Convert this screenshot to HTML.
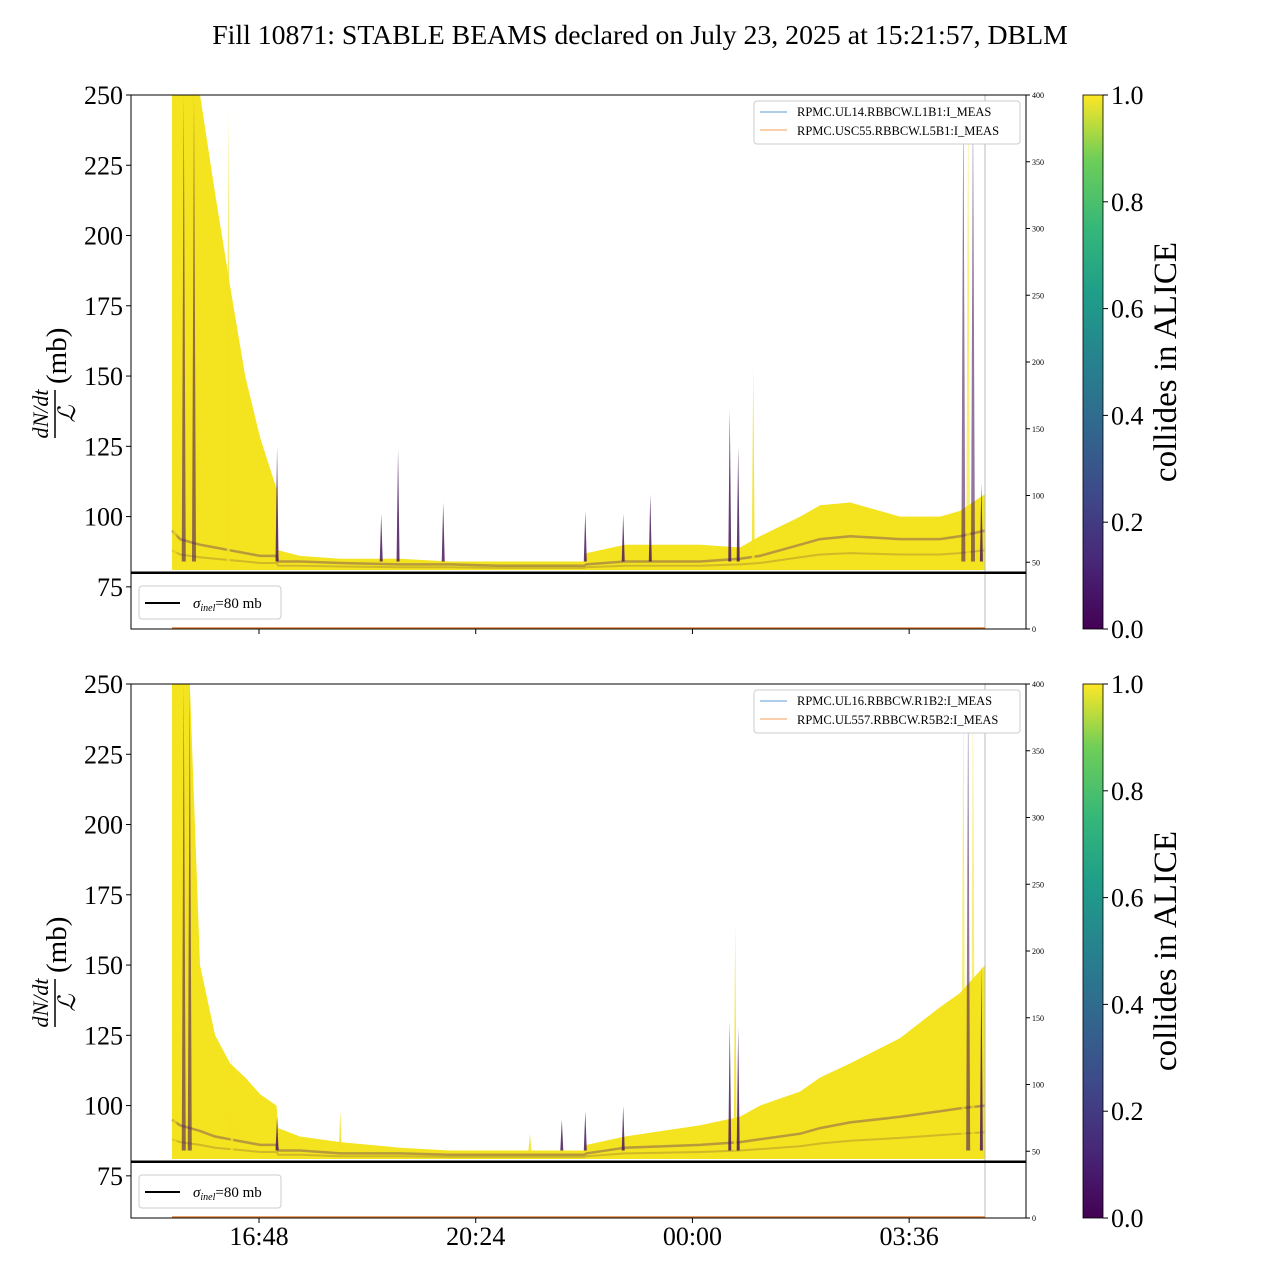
<!DOCTYPE html>
<html><head><meta charset="utf-8">
<style>
body{margin:0;background:#fff;}
svg text{font-family:"Liberation Serif","DejaVu Serif",serif;fill:#000;}
</style></head>
<body>
<svg id="fig" width="1280" height="1280" viewBox="0 0 1280 1280" xmlns="http://www.w3.org/2000/svg">
<defs>
<linearGradient id="viridis" x1="0" y1="1" x2="0" y2="0">
<stop offset="0" stop-color="#440154"/><stop offset="0.13" stop-color="#482878"/>
<stop offset="0.25" stop-color="#3e4989"/><stop offset="0.38" stop-color="#31688e"/>
<stop offset="0.5" stop-color="#26828e"/><stop offset="0.63" stop-color="#1f9e89"/>
<stop offset="0.75" stop-color="#35b779"/><stop offset="0.88" stop-color="#6ece58"/>
<stop offset="1" stop-color="#fde725"/>
</linearGradient>
</defs>
<text x="640" y="44" font-size="27.8" text-anchor="middle">Fill 10871: STABLE BEAMS declared on July 23, 2025 at 15:21:57, DBLM</text>
</svg>
<script>
// ----- data (time in hours from midnight of Jul 23; values in mb) -----
const xTickHours = [16.8, 20.4, 24.0, 27.6];
const xTickLabels = ["16:48", "20:24", "00:00", "03:36"];
const yTicks = [75, 100, 125, 150, 175, 200, 225, 250];
const y2Ticks = [0, 50, 100, 150, 200, 250, 300, 350, 400];
const cbTicks = [0.0, 0.2, 0.4, 0.6, 0.8, 1.0];
const sigmaInel = 80;

const topTimes = [15.355,15.49,15.65,15.82,16.07,16.32,16.57,16.82,17.09,17.12,17.48,18.15,19.14,19.97,20.80,22.20,22.24,22.88,24.13,24.79,25.12,25.79,26.12,26.62,27.45,28.11,28.44,28.86];
const topUpper = [250,250,250,250,215,182,150,128,110,88,86,85,85,84,84,84,87,90,90,89,93,100,104,105,100,100,102,108];
const topBand  = [95,92,91,90,89,88,87,86,86,84,84,83.5,83,83,82.5,82.5,83,84,84,85,86,90,92,93,92,92,93,95];
const topSpikeT = [15.40,15.55,15.72,16.29,17.10,18.83,19.11,19.86,22.22,22.85,23.30,24.62,24.76,25.01,28.50,28.58,28.66,28.80];
const topSpikeV = [250,250,250,245,125,101,124,105,102,101,108,138,125,154,250,250,250,112];
const topSpikeDark = [0,1,1,0,1,1,1,1,1,1,1,1,1,0,1,0,1,1];

const botTimes = [15.355,15.49,15.65,15.82,16.07,16.32,16.57,16.82,17.09,17.12,17.48,18.15,19.14,19.97,20.80,22.20,22.24,22.88,24.13,24.79,25.12,25.79,26.12,26.62,27.45,28.11,28.44,28.86];
const botUpper = [250,250,250,150,125,115,110,104,100,92,89,87,85,84,84,84,86,89,93,96,100,105,110,115,124,135,140,150];
const botBand  = [95,93,92,91,89,88,87,86,86,84,84,83,83,82.5,82.5,82.5,83,85,86,87,88,90,92,94,96,98,99,100];
const botSpikeT = [15.40,15.55,15.65,16.35,17.10,18.15,21.30,21.83,22.22,22.85,24.62,24.71,24.76,28.50,28.58,28.66,28.80];
const botSpikeV = [250,250,250,120,96,98,90,95,98,100,130,165,128,250,250,250,150];
const botSpikeDark = [0,1,1,0,1,0,0,1,1,1,1,0,1,0,1,0,1];

const NS = "http://www.w3.org/2000/svg";
const svg = document.getElementById("fig");
function mk(tag, attrs, parent){const e=document.createElementNS(NS,tag);for(const k in attrs)e.setAttribute(k,attrs[k]);(parent||svg).appendChild(e);return e;}

const X0=131, X1=1026;
const xScale = h => 259 + (h-16.8)*60.2;
const tStart = 15.355, tEnd = 28.86;

function panel(top, name, times, upper, band, sT, sV, sD, leg1, leg2){
  const Y0=top, Y1=top+534;
  const yScale = v => Y0 + (250-v)/190*534;
  const y2Scale = v => Y1 - v/400*534;
  const g = mk("g",{});
  
  
  let d = "M"+xScale(times[0])+","+yScale(81);
  for(let i=0;i<times.length;i++) d+=" L"+xScale(times[i]).toFixed(1)+","+Math.max(Y0,yScale(upper[i])).toFixed(1);
  d+=" L"+xScale(times[times.length-1])+","+yScale(81)+" Z";
  const env = mk("path",{d:d,fill:"#f4e31f"},g);
  
  
  let pts = times.map((t,i)=>xScale(t).toFixed(1)+","+yScale(band[i]).toFixed(1)).join(" ");
  const bl = mk("polyline",{points:pts,fill:"none",stroke:"#5a2c6a","stroke-width":2.5,"stroke-opacity":0.4},g);
  
  
  let pts2 = times.map((t,i)=>xScale(t).toFixed(1)+","+yScale((band[i]+81)/2).toFixed(1)).join(" ");
  const bl2 = mk("polyline",{points:pts2,fill:"none",stroke:"#7a5a3a","stroke-width":2,"stroke-opacity":0.3},g);
  
  
  for(let i=0;i<sT.length;i++){
    const x=xScale(sT[i]), yt=Math.max(Y0,yScale(sV[i])), yb=yScale(84);
    const w = sV[i]>=250 ? 2 : 1.5;
    const s = mk("path",{d:`M${x-w},${yb} L${x},${yt} L${x+w},${yb} Z`,fill:sD[i]?"#4a1a5c":"#f2e21e","fill-opacity":sV[i]>=250?0.6:0.85},g);
    
    
  }
  mk("line",{x1:xScale(tEnd),x2:xScale(tEnd),y1:Y0,y2:Y1,stroke:"#bbb","stroke-width":1},g);
  mk("line",{x1:xScale(tStart),x2:xScale(tEnd),y1:Y1-1,y2:Y1-1,stroke:"#e0823a","stroke-width":1.5},g);
  const sl = mk("line",{x1:X0,x2:X1,y1:yScale(sigmaInel),y2:yScale(sigmaInel),stroke:"#000","stroke-width":2.5},g);
  
  
  mk("rect",{x:X0,y:Y0,width:X1-X0,height:Y1-Y0,fill:"none",stroke:"#000","stroke-width":1},g);
  yTicks.forEach(v=>{
    const y=yScale(v);
    mk("line",{x1:X0-5,x2:X0,y1:y,y2:y,stroke:"#000"},g);
    const t=mk("text",{x:X0-8,y:y+9,"font-size":26,"text-anchor":"end"},g);t.textContent=v;
    
    
  });
  y2Ticks.forEach(v=>{
    const y=y2Scale(v);
    mk("line",{x1:X1,x2:X1+4,y1:y,y2:y,stroke:"#000"},g);
    const t=mk("text",{x:X1+6,y:y+3,"font-size":8},g);t.textContent=v;
    
    
  });
  xTickHours.forEach(h=>{const x=xScale(h);mk("line",{x1:x,x2:x,y1:Y1,y2:Y1+5,stroke:"#000"},g);});
  const yl = mk("g",{transform:`translate(58,${(Y0+Y1)/2+2}) rotate(-90)`},g);
  
  
  let t=mk("text",{x:-50,y:-10,"font-size":22,"font-style":"italic","text-anchor":"middle"},yl);t.textContent="dN/dt";
  mk("line",{x1:-74,x2:-26,y1:-3,y2:-3,stroke:"#000","stroke-width":1.5},yl);
  t=mk("text",{x:-50,y:17,"font-size":24,"font-style":"italic","text-anchor":"middle"},yl);t.textContent="ℒ";
  t=mk("text",{x:-20,y:8,"font-size":29},yl);t.textContent="(mb)";
  const lg=mk("g",{},g);
  
  
  mk("rect",{x:139,y:Y1-43,width:142,height:33,rx:3,fill:"#fff",stroke:"#ccc"},lg);
  mk("line",{x1:145,x2:180,y1:Y1-26,y2:Y1-26,stroke:"#000","stroke-width":2},lg);
  t=mk("text",{x:193,y:Y1-21,"font-size":15},lg);
  t.innerHTML='<tspan font-style="italic">σ</tspan><tspan font-style="italic" font-size="10" dy="3">inel</tspan><tspan dy="-3">=80 mb</tspan>';
  const lg2=mk("g",{},g);
  
  
  mk("rect",{x:754,y:Y0+6,width:266,height:43,rx:3,fill:"#fff",stroke:"#ccc"},lg2);
  mk("line",{x1:760,x2:787,y1:Y0+17,y2:Y0+17,stroke:"#5b9bd5"},lg2);
  mk("line",{x1:760,x2:787,y1:Y0+35,y2:Y0+35,stroke:"#f5a05a"},lg2);
  t=mk("text",{x:797,y:Y0+21,"font-size":12.5},lg2);t.textContent=leg1;
  t=mk("text",{x:797,y:Y0+40,"font-size":12.5},lg2);t.textContent=leg2;
  const cb=mk("g",{},g);
  
  
  mk("rect",{x:1083,y:Y0,width:20,height:Y1-Y0,fill:"url(#viridis)",stroke:"#000","stroke-width":0.8},cb);
  cbTicks.forEach(v=>{
    const y=Y1-v*(Y1-Y0);
    mk("line",{x1:1103,x2:1108,y1:y,y2:y,stroke:"#000"},cb);
    const tt=mk("text",{x:1111,y:y+9,"font-size":26},cb);tt.textContent=v.toFixed(1);
  });
  const cl=mk("text",{transform:`translate(1176,${(Y0+Y1)/2}) rotate(-90)`,"font-size":33,"text-anchor":"middle"},cb);
  cl.textContent="collides in ALICE";
}
panel(95,"top",topTimes,topUpper,topBand,topSpikeT,topSpikeV,topSpikeDark,"RPMC.UL14.RBBCW.L1B1:I_MEAS","RPMC.USC55.RBBCW.L5B1:I_MEAS");
panel(684,"bottom",botTimes,botUpper,botBand,botSpikeT,botSpikeV,botSpikeDark,"RPMC.UL16.RBBCW.R1B2:I_MEAS","RPMC.UL557.RBBCW.R5B2:I_MEAS");
xTickHours.forEach((h,i)=>{
  const t=mk("text",{x:xScale(h),y:1245,"font-size":26,"text-anchor":"middle"});
  t.textContent=xTickLabels[i];
  
  
});
</script>
</body></html>
